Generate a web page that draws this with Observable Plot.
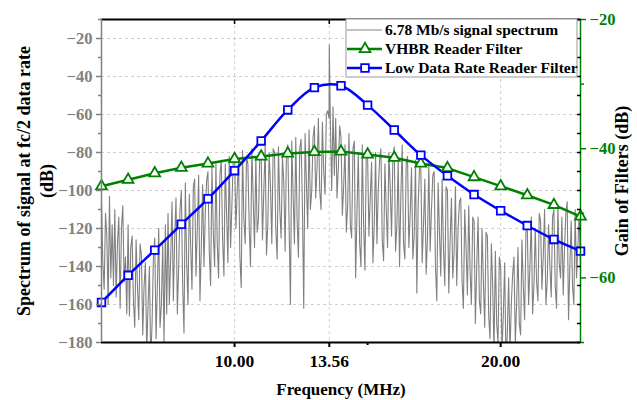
<!DOCTYPE html>
<html><head><meta charset="utf-8">
<script src="https://cdn.jsdelivr.net/npm/d3@7"></script>
<script src="https://cdn.jsdelivr.net/npm/@observablehq/plot@0.6"></script>
<style>
body{margin:0;background:#fff;}
#wrap{position:relative;width:637px;height:400px;}
#legend{position:absolute;left:0;top:0;pointer-events:none;}
</style></head><body><div id="wrap"></div>
<script>
// ---------- data ----------
const filterFreqs = [5,6,7,8,9,10,11,12,13,14,15,16,17,18,19,20,21,22,23];
const vhbrGain = [-45.8,-44.8,-43.8,-42.95,-42.3,-41.6,-41.2,-40.75,-40.5,-40.45,-40.9,-41.4,-42.3,-43.0,-44.4,-45.8,-47.2,-48.7,-50.5];
const lowRateGain = [-63.8,-59.6,-55.7,-51.7,-47.75,-43.4,-38.8,-34.0,-30.55,-30.25,-33.25,-37.1,-41.0,-44.2,-47.1,-49.6,-51.9,-54.05,-55.85];

// spectrum samples every 0.05 MHz from 5 MHz to 23 MHz
const specStart = 5, specStep = 0.05;
const specLevels = [
 -106,-138,-152,-112,-124,-160,-103,-146,-118,-150,
 -110,-156,-128,-114,-162,-120,-108,-148,-135,-165,
 -118,-166,-130,-124,-158,-172,-126,-150,-168,-128,
 -134,-176,-150,-138,-185,-160,-140,-190,-170,-136,
 -125,-178,-150,-120,-172,-160,-128,-180,-118,-165,
 -112,-160,-135,-106,-158,-125,-104,-165,-140,-110,
 -100,-150,-175,-96,-138,-160,-102,-128,-152,-98,
 -94,-145,-120,-92,-158,-130,-97,-140,-112,-95,
 -90,-132,-150,-88,-122,-140,-86,-128,-146,-92,
 -84,-125,-145,-86,-112,-138,-82,-130,-108,-84,
 -80,-120,-100,-84,-135,-151,-79,-115,-128,-82,
 -86,-118,-140,-78,-104,-130,-82,-122,-115,-80,
 -82,-126,-100,-76,-134,-118,-80,-98,-128,-78,
 -80,-120,-136,-77,-110,-125,-82,-96,-132,-79,
 -76,-118,-160,-74,-102,-128,-72,-115,-135,-78,
 -73,-108,-162,-70,-96,-120,-68,-110,-100,-72,
 -66,-104,-88,-62,-100,-110,-64,-90,-102,-60,
 -58,-62,-64,-100,-56,-92,-62,-104,-88,-66,
 -72,-113,-98,-76,-122,-108,-70,-118,-125,-78,
 -74,-146,-112,-80,-128,-140,-76,-118,-142,-80,
 -82,-124,-104,-85,-138,-118,-80,-128,-100,-84,
 -78,-126,-137,-86,-110,-130,-80,-98,-124,-83,
 -77,-132,-118,-84,-140,-102,-76,-128,-136,-86,
 -82,-130,-112,-88,-136,-124,-84,-154,-108,-88,
 -88,-138,-118,-94,-144,-125,-86,-132,-110,-92,
 -90,-140,-158,-96,-122,-145,-94,-130,-150,-98,
 -100,-154,-126,-104,-146,-132,-98,-150,-120,-106,
 -104,-148,-162,-110,-130,-155,-108,-142,-160,-114,
 -116,-170,-140,-114,-158,-165,-120,-148,-172,-122,
 -124,-166,-178,-128,-150,-185,-132,-170,-180,-135,
 -140,-185,-165,-138,-190,-175,-146,-185,-160,-144,
 -135,-180,-160,-130,-170,-176,-126,-150,-168,-122,
 -118,-160,-140,-114,-165,-150,-120,-148,-158,-112,
 -116,-152,-135,-110,-160,-148,-118,-140,-156,-114,
 -110,-150,-162,-108,-138,-146,-114,-155,-130,-112,
 -106,-168,-140,-116,-150,-160,-110,-146,-130,-112,
 -140
];
const carrierFreq = 13.56, carrierLevel = -23.5;

const leftMajor = [-20,-40,-60,-80,-100,-120,-140,-160,-180];
const leftMinor = [-10,-30,-50,-70,-90,-110,-130,-150,-170];
const rightMajor = [-20,-40,-60];
const rightMinor = [-30,-50,-70];
const xMajor = [10, 13.56, 20];
const xMinor = [15];
const legendLabels = ["6.78 Mb/s signal spectrum","VHBR Reader Filter","Low Data Rate Reader Filter"];
const leftTitle = "Spectrum of signal at fc/2 data rate\n(dB)";
const rightTitle = "Gain of Filters (dB)";
const xTitle = "Frequency (MHz)";

// ---------- build ----------
const GREEN = "#008000", BLUE = "#0000ff", GRAY = "#808080";
const FONT = "'Liberation Serif','Times New Roman',serif";
const leftDom = [-180,-10], rightDom = [-70,-20];
const k = (leftDom[1]-leftDom[0])/(rightDom[1]-rightDom[0]);
const toLeft = r => leftDom[0] + (r - rightDom[0]) * k;
const fromLeft = l => Math.round((l - leftDom[0]) / k + rightDom[0]);

const spectrum = specLevels.map((v,i)=>({f: +(specStart + i*specStep).toFixed(3), v}));
spectrum.push({f: carrierFreq, v: carrierLevel});
spectrum.sort((a,b)=>a.f-b.f);
const filters = filterFreqs.map((f,i)=>({f, g: toLeft(vhbrGain[i]), b: toLeft(lowRateGain[i])}));

const chart = Plot.plot({
  width: 637, height: 400,
  marginLeft: 101, marginRight: 57, marginTop: 19, marginBottom: 58,
  style: {fontFamily: FONT, background: "white", overflow: "visible"},
  x: {type: "linear", domain: [5, 23]},
  y: {domain: leftDom},
  marks: [
    Plot.gridY(leftMajor.slice(0,-1), {stroke: "#c4c4c4", strokeOpacity: 1, strokeDasharray: "3,3", strokeWidth: 0.8}),
    Plot.gridX(xMajor, {stroke: "#c4c4c4", strokeOpacity: 1, strokeDasharray: "3,3", strokeWidth: 0.8}),
    Plot.line(spectrum, {x: "f", y: "v", stroke: GRAY, strokeWidth: 1.1, clip: true}),
    Plot.line(filters, {x: "f", y: "g", stroke: GREEN, strokeWidth: 2.5}),
    Plot.line(filters, {x: "f", y: "b", stroke: BLUE, strokeWidth: 2.5, curve: "catmull-rom"}),
    Plot.dot(filters, {x: "f", y: "g", symbol: "triangle", r: 4, fill: "white", stroke: GREEN, strokeWidth: 1.8}),
    Plot.dot(filters, {x: "f", y: "b", symbol: "square", r: 4.3, fill: "white", stroke: BLUE, strokeWidth: 1.8}),
    // frame
    Plot.ruleY([leftDom[1]], {stroke: "black", strokeWidth: 2}),
    Plot.ruleY([leftDom[0]], {stroke: "black", strokeWidth: 2.2}),
    Plot.ruleX([5], {stroke: GRAY, strokeWidth: 1.5}),
    Plot.ruleX([23], {stroke: GREEN, strokeWidth: 1.5}),
    // left axis
    Plot.axisY(leftMajor, {anchor: "left", tickSize: 5, tickPadding: 4, color: GRAY, strokeWidth: 1.5, fontSize: 16.5, fontWeight: "bold", label: null}),
    Plot.axisY(leftMinor, {anchor: "left", tickSize: 3, color: GRAY, strokeWidth: 1.5, tickFormat: () => "", label: null}),
    // mirrored inner ticks on right
    Plot.axisY(leftMajor.concat(leftMinor), {anchor: "right", tickSize: -4, color: "black", strokeWidth: 1.5, tickFormat: () => "", label: null}),
    // right axis (gain)
    Plot.axisY(rightMajor.map(toLeft), {anchor: "right", tickSize: 5, tickPadding: 4, color: GREEN, strokeWidth: 1.5, fontSize: 16.5, fontWeight: "bold", tickFormat: d => fromLeft(d).toString().replace("-", "\u2212"), label: null}),
    Plot.axisY(rightMinor.map(toLeft), {anchor: "right", tickSize: 3, color: GREEN, strokeWidth: 1.5, tickFormat: () => "", label: null}),
    // x axis
    Plot.axisX(xMajor, {anchor: "bottom", tickSize: 5, tickPadding: 7, color: "black", strokeWidth: 2, fontSize: 17.5, fontWeight: "bold", tickFormat: d => d.toFixed(2), label: null}),
    Plot.axisX(xMinor, {anchor: "bottom", tickSize: 3, color: "black", strokeWidth: 2, tickFormat: () => "", label: null}),
    Plot.axisX(xMajor.concat(xMinor), {anchor: "top", tickSize: -4, color: "black", strokeWidth: 1.5, tickFormat: () => "", label: null}),
    // titles
    Plot.text([leftTitle], {frameAnchor: "left", textAnchor: "middle", rotate: -90, dx: -67, text: d => d, fontSize: 18, fontWeight: "bold", fill: "black", lineHeight: 1.25}),
    Plot.text([rightTitle], {frameAnchor: "right", textAnchor: "middle", rotate: -90, dx: 42, text: d => d, fontSize: 18, fontWeight: "bold", fill: "black"}),
    Plot.text([xTitle], {frameAnchor: "bottom", dy: 52, text: d => d, fontSize: 17, fontWeight: "bold", fill: "black"})
  ]
});
const wrap = document.getElementById("wrap");
wrap.appendChild(chart);

// ---------- legend overlay ----------
const lg = d3.select(wrap).append("svg").attr("id","legend").attr("width",637).attr("height",400)
  .style("font-family", FONT);
const bx = 346, by = 19, bw = 231, bh = 58;
lg.append("rect").attr("x",bx).attr("y",by).attr("width",bw).attr("height",bh)
  .attr("fill","white").attr("stroke","#9a9a9a").attr("stroke-width",1);
const rowY = [30, 49, 68];
const colors = [GRAY, GREEN, BLUE];
const widths = [1, 2.5, 2.5];
const symbols = [null, d3.symbolTriangle, d3.symbolSquare];
const sizes = [0, Math.PI*16, Math.PI*4.3*4.3];
legendLabels.forEach((t,i)=>{
  lg.append("line").attr("x1",bx+1).attr("x2",bx+36).attr("y1",rowY[i]).attr("y2",rowY[i])
    .attr("stroke",colors[i]).attr("stroke-width",widths[i]);
  if (symbols[i]) lg.append("path").attr("d", d3.symbol(symbols[i], sizes[i])())
    .attr("transform",`translate(${bx+19},${rowY[i]})`).attr("fill","white")
    .attr("stroke",colors[i]).attr("stroke-width",1.8);
  lg.append("text").attr("x",bx+39).attr("y",rowY[i]).attr("dy","0.34em")
    .attr("font-size",15.5).attr("font-weight","bold").attr("fill","black").text(t);
});
</script></body></html>
